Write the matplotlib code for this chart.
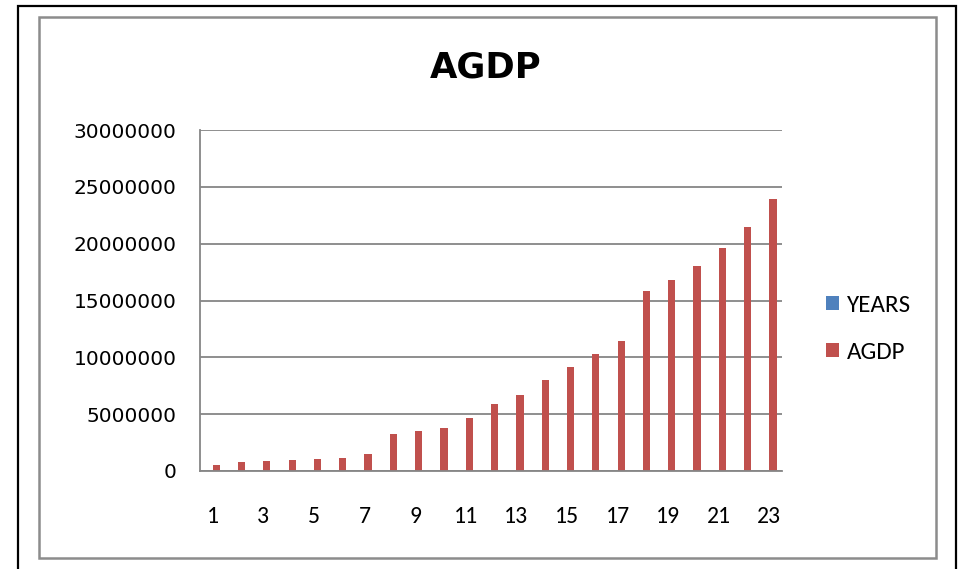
import matplotlib.pyplot as plt
import numpy as np
from matplotlib.patches import Rectangle

# data
years = list(range(1, 24))
agdp = [530000, 790000, 880000, 970000, 1060000, 1120000, 1530000,
        3290000, 3550000, 3820000, 4700000, 5880000, 6710000, 7980000,
        9150000, 10270000, 11480000, 15810000, 16810000, 18050000,
        19610000, 21500000, 23910000]
tick_labels = [str(y) if y % 2 == 1 else '' for y in years]

W, H = 961, 569
fig = plt.figure(figsize=(W / 100, H / 100), dpi=100)

# outer black frame and inner grey chart border
fig.patches.append(Rectangle((18 / W, 1 - 575 / H), (956 - 18) / W, (575 - 6) / H,
                             transform=fig.transFigure, fill=False,
                             edgecolor='black', linewidth=1.6))
fig.patches.append(Rectangle((39 / W, 1 - 558 / H), (936 - 39) / W, (558 - 17) / H,
                             transform=fig.transFigure, fill=False,
                             edgecolor='#8c8c8c', linewidth=1.8))

ax = fig.add_axes([200 / W, (H - 471) / H, 582 / W, 341 / H])

x = np.arange(len(years))
bw = 1 / 3.5
ax.bar(x - bw / 2, years, width=bw, color='#4F81BD', label='YEARS')
ax.bar(x + bw / 2, agdp, width=bw, color='#C0504D', label='AGDP')

ax.set_xlim(-0.5, len(years) - 0.5)
ax.set_ylim(0, 30000000)
ax.set_yticks(np.arange(0, 30000001, 5000000))
ax.set_yticklabels([f'{v:d}' for v in range(0, 30000001, 5000000)],
                   fontsize=14.5, family='DejaVu Sans')
ax.set_xticks(x)
ax.set_xticklabels(tick_labels, fontsize=17, family='Carlito')
ax.tick_params(axis='y', length=0, pad=17)
ax.tick_params(axis='x', length=0, pad=25)

ax.grid(axis='y', color='#868686', linewidth=1.3)
ax.set_axisbelow(True)
for s in ['top', 'right']:
    ax.spines[s].set_visible(False)
ax.spines['left'].set_color('#868686')
ax.spines['bottom'].set_color('#868686')
ax.spines['left'].set_linewidth(1.3)
ax.spines['bottom'].set_linewidth(1.3)

fig.text(486 / W, 1 - 68 / H, 'AGDP', ha='center', va='center',
         fontsize=25.5, fontweight='bold', family='DejaVu Sans')

fig.legend(loc='center left', bbox_to_anchor=(826 / W, 1 - 329 / H),
           frameon=False, prop={'family': 'Carlito', 'size': 18},
           borderpad=0, borderaxespad=0,
           handlelength=0.5, handleheight=0.5, handletextpad=0.35,
           labelspacing=1.05)

fig.savefig('out.png', dpi=100)
